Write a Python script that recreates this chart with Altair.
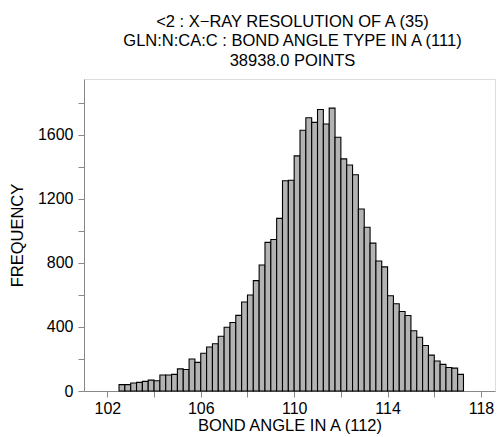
import altair as alt
import pandas as pd

bin_start = [102.5 + 0.25 * i for i in range(59)]
bin_width = 0.25
counts = [40, 40, 50, 54, 60, 68, 64, 100, 100, 104,
          138, 134, 200, 179, 236, 275, 295, 342, 398, 428,
          472, 556, 599, 689, 787, 928, 946, 1078, 1313, 1316,
          1468, 1628, 1706, 1677, 1758, 1667, 1766, 1584, 1449, 1411,
          1350, 1136, 1022, 923, 812, 775, 595, 545, 496, 471,
          376, 336, 284, 224, 187, 166, 147, 143, 104]
x_ticks = [102, 104, 106, 108, 110, 112, 114, 116, 118]
y_ticks = [0, 200, 400, 600, 800, 1000, 1200, 1400, 1600, 1800]
title_lines = ["<2 : X\u2212RAY RESOLUTION OF A (35)",
               "GLN:N:CA:C : BOND ANGLE TYPE IN A (111)",
               "38938.0 POINTS"]

df = pd.DataFrame({
    "start": bin_start,
    "end": [s + bin_width for s in bin_start],
    "count": counts,
})

FONT = "Liberation Sans"

chart = alt.Chart(df).mark_rect(
    fill="#b3b3b3", stroke="black", strokeWidth=1.1
).encode(
    x=alt.X("start:Q",
            scale=alt.Scale(domain=[101, 118.6], nice=False, zero=False),
            axis=alt.Axis(values=x_ticks, title="BOND ANGLE IN A (112)",
                          labelExpr="datum.value % 4 == 2 ? datum.label : ''",
                          grid=False, tickSize=6, labelPadding=3,
                          titlePadding=1, labelFontSize=16, titleFontSize=16.5,
                          titleFontWeight="normal", labelFlush=False)),
    x2="end:Q",
    y=alt.Y("count:Q",
            scale=alt.Scale(domain=[0, 1948], nice=False),
            axis=alt.Axis(values=y_ticks, title="FREQUENCY",
                          labelExpr="datum.value % 400 == 0 ? datum.label : ''",
                          format="d",
                          grid=False, tickSize=6, labelPadding=5,
                          titlePadding=12, labelFontSize=16, titleFontSize=16.5,
                          titleFontWeight="normal", labelFlush=False)),
    y2=alt.datum(0),
).properties(
    width=411,
    height=312,
    title=alt.TitleParams(text=title_lines, fontSize=16.5, font=FONT,
                          fontWeight="normal", anchor="middle", dx=3,
                          lineHeight=19.5, offset=10, color="black"),
    autosize=alt.AutoSizeParams(type="none"),
    padding={"left": 76, "top": 71, "right": 1, "bottom": 44},
).configure_view(
    stroke="black", strokeWidth=1.2
).configure_axis(
    domainColor="black", tickColor="black", labelColor="black",
    titleColor="black", labelFont=FONT, titleFont=FONT,
    titleFontWeight="normal", domainWidth=1.2, tickWidth=1.2
).configure(background="white")

chart.save("out.html", embed_options={"renderer": "svg", "actions": False})
